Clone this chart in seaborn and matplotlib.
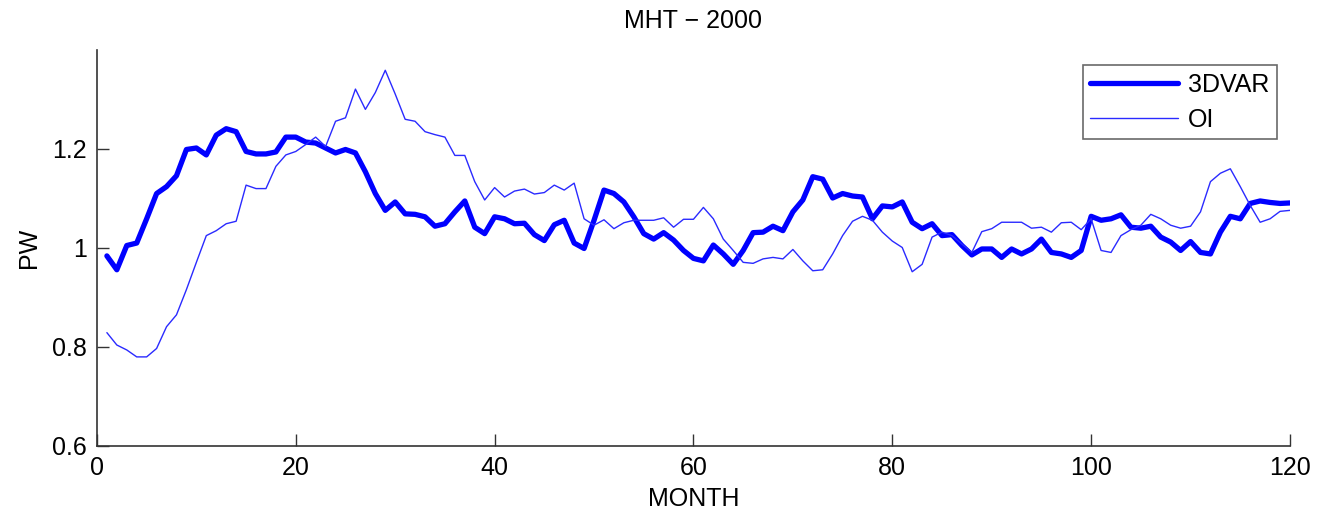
import numpy as np
import pandas as pd
import matplotlib
matplotlib.use("Agg")
import matplotlib.pyplot as plt
import seaborn as sns

months = list(range(1, 121))

var3d = [0.984, 0.956, 1.005, 1.010, 1.059, 1.110, 1.124, 1.146, 1.199, 1.202,
         1.188, 1.228, 1.241, 1.235, 1.195, 1.190, 1.190, 1.194, 1.224, 1.224,
         1.214, 1.212, 1.202, 1.192, 1.199, 1.192, 1.154, 1.110, 1.076, 1.093,
         1.069, 1.068, 1.063, 1.044, 1.049, 1.073, 1.095, 1.042, 1.029, 1.063,
         1.059, 1.049, 1.050, 1.027, 1.015, 1.047, 1.056, 1.010, 0.999, 1.056,
         1.117, 1.110, 1.093, 1.063, 1.029, 1.018, 1.031, 1.016, 0.995, 0.979,
         0.974, 1.006, 0.988, 0.967, 0.995, 1.031, 1.032, 1.044, 1.035, 1.073,
         1.097, 1.144, 1.139, 1.101, 1.110, 1.105, 1.103, 1.059, 1.085, 1.083,
         1.093, 1.052, 1.039, 1.049, 1.025, 1.027, 1.005, 0.986, 0.998, 0.998,
         0.981, 0.998, 0.988, 0.998, 1.018, 0.991, 0.988, 0.981, 0.995, 1.064,
         1.056, 1.059, 1.067, 1.042, 1.040, 1.044, 1.022, 1.012, 0.995, 1.013,
         0.991, 0.988, 1.032, 1.064, 1.059, 1.090, 1.095, 1.092, 1.090, 1.091]

oi = [0.829, 0.804, 0.794, 0.780, 0.780, 0.797, 0.841, 0.865, 0.916, 0.971,
      1.025, 1.035, 1.049, 1.054, 1.127, 1.120, 1.120, 1.165, 1.188, 1.195,
      1.209, 1.224, 1.205, 1.256, 1.263, 1.321, 1.280, 1.314, 1.359, 1.311,
      1.260, 1.256, 1.235, 1.229, 1.224, 1.187, 1.187, 1.134, 1.097, 1.122,
      1.103, 1.115, 1.119, 1.109, 1.112, 1.127, 1.117, 1.131, 1.059, 1.046,
      1.057, 1.039, 1.051, 1.056, 1.056, 1.056, 1.061, 1.042, 1.058, 1.058,
      1.082, 1.059, 1.018, 0.995, 0.971, 0.969, 0.978, 0.981, 0.978, 0.997,
      0.974, 0.954, 0.956, 0.988, 1.025, 1.054, 1.064, 1.056, 1.032, 1.014,
      1.001, 0.952, 0.967, 1.022, 1.032, 1.025, 1.008, 0.991, 1.033, 1.039,
      1.052, 1.052, 1.052, 1.040, 1.042, 1.032, 1.051, 1.052, 1.037, 1.059,
      0.995, 0.991, 1.025, 1.037, 1.046, 1.068, 1.059, 1.046, 1.040, 1.044,
      1.073, 1.134, 1.151, 1.160, 1.124, 1.086, 1.052, 1.059, 1.074, 1.076]

xticks = [0, 20, 40, 60, 80, 100, 120]
yticks = [0.6, 0.8, 1.0, 1.2]
ytick_labels = ["0.6", "0.8", "1", "1.2"]

sns.set_style("white")
plt.rcParams['font.family'] = ['Liberation Sans', 'DejaVu Sans']
plt.rcParams['text.color'] = 'black'
plt.rcParams['axes.labelcolor'] = 'black'

FS = 18

fig = plt.figure(figsize=(13.19, 5.18), dpi=100)
ax = fig.add_axes([0.0735, 0.139, 0.9045, 0.7645])

df = pd.DataFrame({"month": months, "3DVAR": var3d, "OI": oi})
sns.lineplot(data=df, x="month", y="3DVAR", ax=ax, color="#0000ff",
             linewidth=3.8, label="3DVAR")
sns.lineplot(data=df, x="month", y="OI", ax=ax, color="#2a2aff",
             linewidth=1.0, label="OI")

ax.set_xlim(0, 120)
ax.set_ylim(0.6, 1.4)
ax.set_xticks(xticks)
ax.set_yticks(yticks)
ax.set_yticklabels(ytick_labels)
ax.tick_params(direction="in", length=8.5, width=1, labelsize=FS, colors="#333333",
               labelcolor="black", pad=7, bottom=True, left=True)
for s in ["top", "right"]:
    ax.spines[s].set_visible(False)
for s in ["left", "bottom"]:
    ax.spines[s].set_color("#333333")
    ax.spines[s].set_linewidth(1.2)

ax.set_title("MHT − 2000", fontsize=FS, pad=16, color="black")
ax.set_xlabel("MONTH", fontsize=FS, labelpad=5)
ax.set_ylabel("PW", fontsize=FS, labelpad=8)

leg = ax.legend(loc="upper right", bbox_to_anchor=(0.989, 0.962), fontsize=FS,
                frameon=True, fancybox=False, handlelength=3.5,
                borderpad=0.3, labelspacing=0.45, handletextpad=0.4,
                borderaxespad=0)
leg.get_frame().set_edgecolor("#444444")
leg.get_frame().set_linewidth(1.2)

fig.savefig("out.png", dpi=100)
